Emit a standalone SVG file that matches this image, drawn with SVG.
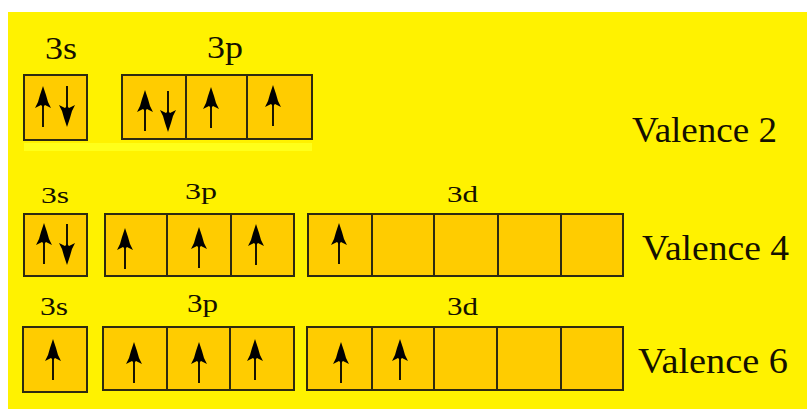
<svg xmlns="http://www.w3.org/2000/svg" xmlns:xlink="http://www.w3.org/1999/xlink" width="807" height="409" viewBox="0 0 807 409">
<style>
.box{fill:#ffcc00;stroke:#2e2a10;stroke-width:2}
.div{stroke:#2e2a10;stroke-width:2}
.lbl{font-family:"Liberation Serif","Times New Roman",serif;fill:#141000}
.val{font-family:"Liberation Serif","Times New Roman",serif;font-size:35px;fill:#141000}
.shaft{stroke:#000;stroke-width:1.8}
</style>
<defs>
<g id="up">
<line class="shaft" x1="0" y1="8" x2="0" y2="41"/>
<path d="M0,0 L-3,9 L-5,16 L-8,22 L-2,19 L0,21 L2,19 L8,22 L5,16 L3,9 Z" fill="#000"/>
</g>
<g id="down">
<use xlink:href="#up" transform="rotate(180)"/>
</g>
</defs>
<rect width="807" height="409" fill="#ffffff"/>
<rect x="8" y="12" width="799" height="397" fill="#fff200"/>
<rect x="24" y="143" width="288" height="8" fill="#ffff1a"/>

<g id="row1-3s">
<text class="lbl" x="45" y="59" font-size="31" textLength="32" lengthAdjust="spacingAndGlyphs">3s</text>
<rect class="box" x="24" y="75" width="63" height="65"/>
<use xlink:href="#up" x="43" y="86"/>
<use xlink:href="#down" x="67" y="127"/>
</g>
<g id="row1-3p">
<text class="lbl" x="207" y="58" font-size="31" textLength="36" lengthAdjust="spacingAndGlyphs">3p</text>
<rect class="box" x="122" y="75" width="190" height="64"/>
<line class="div" x1="186" y1="75" x2="186" y2="139"/>
<line class="div" x1="247" y1="75" x2="247" y2="139"/>
<use xlink:href="#up" x="145" y="90"/>
<use xlink:href="#down" x="168" y="132"/>
<use xlink:href="#up" x="211" y="87"/>
<use xlink:href="#up" x="273" y="85"/>
</g>
<g id="label-valence2"><text class="val" x="632" y="142" textLength="145" lengthAdjust="spacingAndGlyphs">Valence 2</text></g>

<g id="row2-3s">
<text class="lbl" x="41" y="203" font-size="23" textLength="28" lengthAdjust="spacingAndGlyphs">3s</text>
<rect class="box" x="24" y="214" width="63" height="62"/>
<use xlink:href="#up" x="44" y="223"/>
<use xlink:href="#down" x="67" y="265"/>
</g>
<g id="row2-3p">
<text class="lbl" x="185" y="199" font-size="23" textLength="32" lengthAdjust="spacingAndGlyphs">3p</text>
<rect class="box" x="105" y="214" width="189" height="62"/>
<line class="div" x1="167" y1="214" x2="167" y2="276"/>
<line class="div" x1="231" y1="214" x2="231" y2="276"/>
<use xlink:href="#up" x="125" y="228"/>
<use xlink:href="#up" x="199" y="227"/>
<use xlink:href="#up" x="256" y="224"/>
</g>
<g id="row2-3d">
<text class="lbl" x="447" y="202" font-size="23" textLength="31" lengthAdjust="spacingAndGlyphs">3d</text>
<rect class="box" x="308" y="214" width="315" height="62"/>
<line class="div" x1="372" y1="214" x2="372" y2="276"/>
<line class="div" x1="434" y1="214" x2="434" y2="276"/>
<line class="div" x1="498" y1="214" x2="498" y2="276"/>
<line class="div" x1="561" y1="214" x2="561" y2="276"/>
<use xlink:href="#up" x="339" y="223"/>
</g>
<g id="label-valence4"><text class="val" x="642" y="260" textLength="147" lengthAdjust="spacingAndGlyphs">Valence 4</text></g>

<g id="row3-3s">
<text class="lbl" x="40" y="315" font-size="25" textLength="28" lengthAdjust="spacingAndGlyphs">3s</text>
<rect class="box" x="23" y="327" width="64" height="65"/>
<use xlink:href="#up" x="53" y="339"/>
</g>
<g id="row3-3p">
<text class="lbl" x="187" y="312" font-size="25" textLength="31" lengthAdjust="spacingAndGlyphs">3p</text>
<rect class="box" x="103" y="327" width="191" height="63"/>
<line class="div" x1="167" y1="327" x2="167" y2="390"/>
<line class="div" x1="230" y1="327" x2="230" y2="390"/>
<use xlink:href="#up" x="134" y="342"/>
<use xlink:href="#up" x="199" y="342"/>
<use xlink:href="#up" x="255" y="339"/>
</g>
<g id="row3-3d">
<text class="lbl" x="447" y="315" font-size="25" textLength="31" lengthAdjust="spacingAndGlyphs">3d</text>
<rect class="box" x="307" y="327" width="316" height="63"/>
<line class="div" x1="372" y1="327" x2="372" y2="390"/>
<line class="div" x1="434" y1="327" x2="434" y2="390"/>
<line class="div" x1="497" y1="327" x2="497" y2="390"/>
<line class="div" x1="561" y1="327" x2="561" y2="390"/>
<use xlink:href="#up" x="341" y="342"/>
<use xlink:href="#up" x="400" y="339"/>
</g>
<g id="label-valence6"><text class="val" x="638" y="373" textLength="150" lengthAdjust="spacingAndGlyphs">Valence 6</text></g>
</svg>
